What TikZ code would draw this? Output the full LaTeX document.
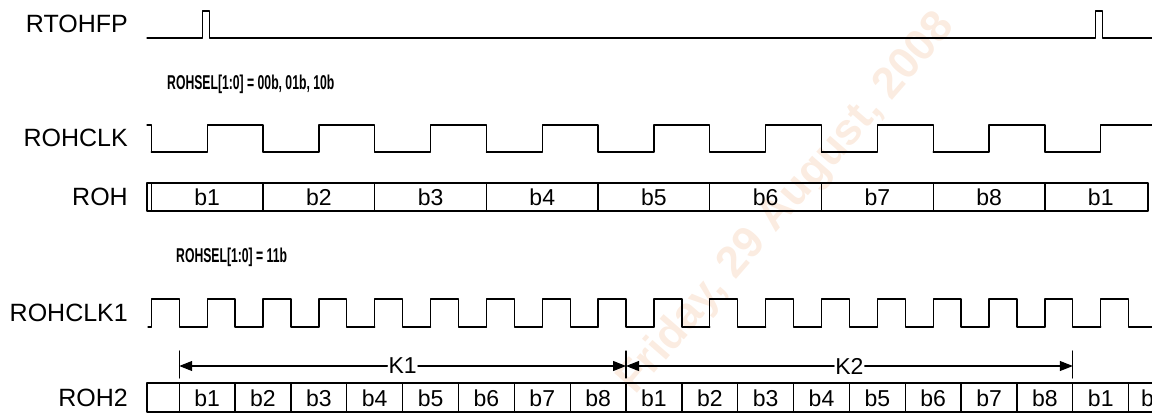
\documentclass[tikz,border=0pt]{standalone}
\usepackage{graphicx}
\usepackage{fontspec}
\setmainfont{Liberation Sans}
\usetikzlibrary{arrows.meta,calc}
\definecolor{stamp}{RGB}{251,236,225}

\begin{document}
\begin{tikzpicture}[x=1pt,y=-1pt,line cap=round,line join=round,
  wave/.style={line width=1.3pt},
  sig/.style={anchor=east,inner sep=0pt,font=\fontsize{25}{25}\selectfont},
  bit/.style={inner sep=1pt,font=\fontsize{23}{23}\selectfont},
  mode/.style={anchor=west,inner sep=0pt,font=\bfseries\fontsize{20}{20}\selectfont},
  span/.style={line width=1.1pt,-{Triangle[length=13pt,width=10pt]}}]
  \useasboundingbox (0,0) rectangle (1152,413);
  \def\tz{151.3}\def\per{111.7}

  % watermark
  \node[text=stamp,font=\bfseries\fontsize{44}{44}\selectfont,rotate=49]
    (stamp) at (787,204) {Friday, 29 August, 2008};

  % RTOHFP
  \node[sig] (rtohfp) at (128,24) {RTOHFP};
  \draw[wave] (147,38) -- (202.5,38) -- ++(0,-27) -- ++(7,0) -- ++(0,27)
    -- (1095.5,38) -- ++(0,-27) -- ++(7,0) -- ++(0,27) -- (1152,38);

  \node[mode] (selA) at (167,84) {\scalebox{.61}[1]{ROHSEL[1:0] = 00b, 01b, 10b}};

  % ROHCLK
  \node[sig] (rohclk) at (128,138) {ROHCLK};
  \draw[wave] (147,125) -- (\tz,125) -- (\tz,152);
  \foreach \k in {0,...,8}
    \draw[wave] ({\tz+\k*\per},152) -- ++(\per/2,0) -- ++(0,-27)
      -- ++(\per/2,0) -- ++(0,27);

  % ROH
  \node[sig] (roh) at (128,197) {ROH};
  \draw[wave] (147,183) rectangle (1148,211);
  \draw[wave] (\tz,183) -- (\tz,211);
  \foreach \k in {1,...,8}
    \draw[wave] ({\tz+\k*\per},183) -- ++(0,28);
  \foreach \k in {0,...,8} {
    \pgfmathtruncatemacro\n{mod(\k,8)+1}
    \node[bit] (roh-\k) at ({\tz+(\k+.5)*\per},197) {b\n};
  }

  \node[mode] (selB) at (176,257) {\scalebox{.61}[1]{ROHSEL[1:0] = 11b}};

  % ROHCLK1
  \node[sig] (rohclkone) at (128,313) {ROHCLK1};
  \draw[wave] (148,327) -- (\tz,327);
  \foreach \k in {0,...,17}
    \draw[wave] ({\tz+\k*\per/2},327) -- ++(0,-28) -- ++(\per/4,0)
      -- ++(0,28) -- ++(\per/4,0);

  % ROH2
  \node[sig] (rohtwo) at (128,398) {ROH2};
  \draw[wave] (1152,383) -- (147,383) -- (147,412) -- (1152,412);
  \foreach \k in {0,...,17}
    \draw[wave] ({\tz+\per/4+\k*\per/2},383) -- ++(0,29);
  \foreach \k in {0,...,16} {
    \pgfmathtruncatemacro\n{mod(\k,8)+1}
    \node[bit] (rohtwo-\k) at ({\tz+\per/4+(\k+.5)*\per/2},398) {b\n};
  }
  \node[bit] (rohtwo-17) at (1154,398) {b2};

  % K1 / K2 spans
  \coordinate (m1) at ({\tz+\per/4},366);
  \coordinate (m2) at ({\tz+\per/4+4*\per},366);
  \coordinate (m3) at ({\tz+\per/4+8*\per},366);
  \foreach \m in {m1,m2,m3}
    \draw[wave] (\m) ++(0,-15) -- ++(0,27);
  \node[bit] (k1) at ($(m1)!.5!(m2)$) {K1};
  \node[bit] (k2) at ($(m2)!.5!(m3)$) {K2};
  \draw[span] (k1) -- (m1);
  \draw[span] (k1) -- (m2);
  \draw[span] (k2) -- (m2);
  \draw[span] (k2) -- (m3);
\end{tikzpicture}
\end{document}
